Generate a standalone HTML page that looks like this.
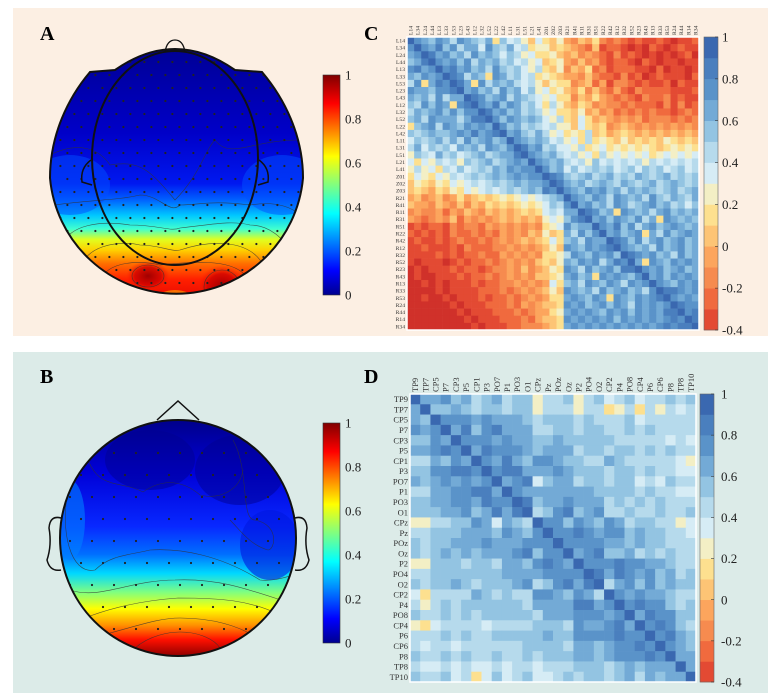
<!DOCTYPE html>
<html><head><meta charset="utf-8"><style>
html,body{margin:0;padding:0;background:#fff;}
svg{display:block;font-family:"Liberation Serif",serif;}
</style></head><body>
<svg id="fig" width="780" height="698" viewBox="0 0 780 698" xmlns="http://www.w3.org/2000/svg">
<defs>
<linearGradient id="jet" x1="0" y1="1" x2="0" y2="0">
<stop offset="0" stop-color="#00008f"/><stop offset="0.11" stop-color="#0000ff"/><stop offset="0.37" stop-color="#00ffff"/><stop offset="0.5" stop-color="#80ff80"/><stop offset="0.63" stop-color="#ffff00"/><stop offset="0.87" stop-color="#ff0000"/><stop offset="1" stop-color="#800000"/>
</linearGradient>
<linearGradient id="gA" gradientUnits="userSpaceOnUse" x1="0" y1="40" x2="0" y2="306">
<stop offset="0" stop-color="#000090"/><stop offset="0.35" stop-color="#0000c8"/><stop offset="0.54" stop-color="#0018f0"/><stop offset="0.6" stop-color="#0060ff"/><stop offset="0.66" stop-color="#00c8ff"/><stop offset="0.71" stop-color="#40ffd0"/><stop offset="0.75" stop-color="#e0ff20"/><stop offset="0.79" stop-color="#ffd000"/><stop offset="0.84" stop-color="#ff7000"/><stop offset="0.9" stop-color="#ff2000"/><stop offset="1" stop-color="#e00000"/>
</linearGradient>
<radialGradient id="hot"><stop offset="0" stop-color="#a00000"/><stop offset="0.6" stop-color="#d00000" stop-opacity="0.8"/><stop offset="1" stop-color="#ff2000" stop-opacity="0"/></radialGradient>
<linearGradient id="gB" gradientUnits="userSpaceOnUse" x1="0" y1="420" x2="0" y2="656">
<stop offset="0" stop-color="#00008a"/><stop offset="0.22" stop-color="#0000d8"/><stop offset="0.45" stop-color="#0828ff"/><stop offset="0.57" stop-color="#0070ff"/><stop offset="0.65" stop-color="#00d8ff"/><stop offset="0.73" stop-color="#80ff80"/><stop offset="0.8" stop-color="#ffff00"/><stop offset="0.87" stop-color="#ff9000"/><stop offset="0.93" stop-color="#ff1000"/><stop offset="1" stop-color="#900000"/>
</linearGradient>
<clipPath id="clipA"><path d="M50,178 C50,135 68,98 90,72 L115,70 Q175,28 235,70 L262,72 C284,98 303,135 303,178 A127,127 0 0 1 50,178 Z"/></clipPath>
<clipPath id="clipB"><circle cx="178" cy="538" r="118"/></clipPath>
</defs>

<rect x="13" y="8" width="755" height="328" fill="#fcefe3"/>
<rect x="13" y="352" width="755" height="341" fill="#dcebe8"/>

<text x="40" y="40" font-size="20" font-weight="bold">A</text>
<text x="364" y="40" font-size="20" font-weight="bold">C</text>
<text x="40" y="383" font-size="20" font-weight="bold">B</text>
<text x="364" y="383" font-size="20" font-weight="bold">D</text>

<g>
<g clip-path="url(#clipA)">
<rect x="40" y="30" width="280" height="290" fill="url(#gA)"/>
<ellipse cx="70" cy="185" rx="40" ry="30" fill="#0050ff" opacity="0.5"/>
<ellipse cx="282" cy="185" rx="40" ry="30" fill="#0050ff" opacity="0.5"/>
<ellipse cx="148" cy="276" rx="22" ry="15" fill="url(#hot)"/>
<ellipse cx="222" cy="287" rx="24" ry="22" fill="url(#hot)"/>
<ellipse cx="175" cy="300" rx="18" ry="10" fill="#ffd000" opacity="0.5"/>
<g fill="none" stroke="#333" stroke-width="0.6" opacity="0.8">
<path d="M50,155 C80,140 100,150 110,165 C140,160 150,170 175,200 C200,175 205,150 215,140 C230,160 250,140 300,140"/>
<path d="M55,205 C90,200 120,200 140,195 C160,195 170,215 180,205 C200,205 210,200 250,205 C280,200 295,210 300,215"/>
<path d="M62,245 C70,225 100,220 130,225 C160,225 170,232 180,228 C210,225 230,220 250,225 C270,225 285,240 288,250"/>
<path d="M80,275 C80,245 120,240 140,245 C160,245 170,252 180,250 C210,240 245,240 260,260 C270,280 262,290 265,295"/>
<path d="M100,292 C95,265 130,258 160,265 C190,262 230,258 245,275 C255,300 240,305 240,305"/>
<ellipse cx="148" cy="276" rx="16" ry="11"/><ellipse cx="222" cy="287" rx="18" ry="17"/>
</g>
<g id="dotsA" fill="#222"></g>
</g>
<path d="M50,178 C50,135 68,98 90,72 L115,70 Q175,28 235,70 L262,72 C284,98 303,135 303,178 A127,127 0 0 1 50,178 Z" fill="none" stroke="#111" stroke-width="2"/>
<ellipse cx="175" cy="158" rx="83" ry="107" fill="none" stroke="#111" stroke-width="2"/>
<path d="M165,52 Q167,40 175,40 Q183,40 185,52" fill="none" stroke="#111" stroke-width="1.3"/>
<path d="M91,160 Q80,168 82,182 L92,185" fill="none" stroke="#111" stroke-width="1.5"/>
<path d="M259,160 Q270,168 268,182 L258,185" fill="none" stroke="#111" stroke-width="1.5"/>
</g>
<g>
<rect x="323" y="75" width="17" height="220" fill="url(#jet)" stroke="#333" stroke-width="0.6"/>
<g id="cbAticks" font-size="13" fill="#222"></g>
</g>

<g>
<g clip-path="url(#clipB)">
<rect x="55" y="415" width="250" height="250" fill="url(#gB)"/>
<ellipse cx="240" cy="470" rx="45" ry="35" fill="#000090" opacity="0.5"/>
<ellipse cx="150" cy="460" rx="45" ry="30" fill="#000090" opacity="0.5"/>
<ellipse cx="270" cy="545" rx="30" ry="35" fill="#0018e0" opacity="0.6"/>
<ellipse cx="70" cy="520" rx="15" ry="40" fill="#0080ff" opacity="0.6"/>
<g fill="none" stroke="#333" stroke-width="0.6" opacity="0.8">
<path d="M88,460 C100,490 120,480 143,492 C160,480 180,478 200,495 C220,500 240,490 243,470"/>
<path d="M233,440 C250,470 240,520 255,520 C280,525 275,550 268,550 C250,545 240,530 230,520"/>
<path d="M68,490 C60,530 70,575 95,570 C110,555 130,555 150,550 C180,548 220,555 260,580 C275,582 290,575 296,575"/>
<path d="M70,590 C100,600 130,580 175,580 C220,578 250,590 296,605"/>
<path d="M90,616 C120,605 150,600 178,598 C220,598 250,600 280,615"/>
<path d="M110,633 C140,625 160,618 180,618 C210,618 240,625 260,640"/>
<path d="M135,648 C150,635 170,632 180,632 C200,632 215,640 220,648"/>
</g>
<g id="dotsB" fill="#222"></g>
</g>
<circle cx="178" cy="538" r="118" fill="none" stroke="#111" stroke-width="2"/>
<path d="M157,420 L178,401 L199,420" fill="none" stroke="#111" stroke-width="1.5"/>
<path d="M61,518 Q50,515 49,528 Q52,545 47,560 Q50,572 61,570" fill="none" stroke="#111" stroke-width="1.5"/>
<path d="M295,518 Q306,515 307,528 Q304,545 309,560 Q306,572 295,570" fill="none" stroke="#111" stroke-width="1.5"/>
</g>
<g>
<rect x="323" y="423" width="17" height="220" fill="url(#jet)" stroke="#333" stroke-width="0.6"/>
<g id="cbBticks" font-size="13" fill="#222"></g>
</g>

<g id="matC"></g>
<g id="matD"></g>
</svg>

<script>
const cLabels = ["L14","L34","L24","L44","L13","L33","L53","L23","L43","L12","L32","L52","L22","L42","L11","L31","L51","L21","L41","Z01","Z02","Z03","R21","R41","R11","R31","R51","R22","R42","R12","R32","R52","R23","R43","R13","R33","R53","R24","R44","R14","R34"];
const cRows = [
"ecbacb9cba9b6a89758"+"657"+"4354632321211210112",
"cecbdac9bb8ca9b8967"+"756"+"5432512210102101211",
"bcedbcab9caba8a9786"+"675"+"4534321312101010120",
"abdecbcac9bab9a8978"+"567"+"4353421221021011011",
"cdbcecdbcab9ca9a879"+"657"+"3546231222110201101",
"bacbcedc9ba6cb9a896"+"765"+"4435322131201211102",
"9c6bdcedb6c9bab9897"+"576"+"6345241332121120211",
"cbbaccdebcab9cab8a7"+"867"+"5463532421322221112",
"bab9c9bbedcabc9ba98"+"786"+"6354643232132231211",
"a9cacb6cdecbdacb9a8"+"697"+"5465343323222131312",
"9babcacaccedbcab9a9"+"786"+"6574534232323221232",
"ab9cbbb9bddecacbaba"+"879"+"6586454343423332323",
"6abc9cbacbcbecab9a9"+"897"+"7586563454343434343",
"a9abaabcbdbcdebca9b"+"978"+"6769564565454545454",
"8a9ab9b9cabcabecbab"+"a89"+"7869676575656576565",
"9b8a9a8bab9cbacedbc"+"9a8"+"8796786767676567676",
"7a98b9a89ab9abbdecb"+"ab9"+"8978697878786787878",
"86879897a9ab9abcbec"+"bab"+"9897a89898979898989",
"7978698a89a9bacbcce"+"cab"+"8a89a9a89a8a9a89a89",
"687687989a9ababcbcc"+"edc"+"a9ab9ab9a9ba9ab9a9a",
"576576878989a9ababb"+"ced"+"bab9aba9ba9ab9aba9a",
"56546576878989a9aba"+"dce"+"cbacbcab9baba9ab9ab",
"4534534645656767878"+"9ab"+"ecbacb9cbab9ca9ba9b",
"5443543535465656767"+"8a9"+"cebcab9cb9abcab9a8a",
"3433424354354545656"+"898"+"bbedcab6cbab9bcabab",
"4323435243434545454"+"787"+"acdebcacbac9b6cbaba",
"1212213233243434343"+"678"+"cabbecbdac9bcabcbab",
"2121213223232434354"+"756"+"b9cacebcabc6b9cabcb",
"1211212322323434545"+"686"+"ab9cbbedcac9bcabcab",
"1121112132223343434"+"575"+"cbacbcdecbab9cabcab",
"1111212122322434343"+"667"+"9cbacbcaedcbcab9cab",
"1011101212232343435"+"657"+"bacbc9bdceb6cbacbcb",
"0101112122123343534"+"576"+"cb9cabcaddecbcabcab",
"0100111212232343435"+"567"+"bcab6cbcbacebcacbcb",
"0010101112122334343"+"486"+"ab9cbacb9cbcecbacbc",
"0000101111222323434"+"575"+"cbab9cabcab9ceddcbc",
"0010010111212232343"+"466"+"bcbacb6cbacbcdecbcb",
"0000001011122232434"+"556"+"cbcabcacb9cbcbcedcc",
"0000000101112223234"+"467"+"bcbcbacbcacbcbddecd",
"0000000010111222324"+"556"+"cbcbcbcacbcbcbcdced",
"0000000001011122333"+"456"+"bcbcbcbcbcbcbcdcdde"
];
const dLabels = ["TP9","TP7","CP5","P7","CP3","P5","CP1","P3","PO7","P1","PO3","O1","CPz","Pz","POz","Oz","P2","PO4","O2","CP2","P4","PO8","CP4","P6","CP6","P8","TP8","TP10"];
const dRows = [
"ebbcab9ab9aa799a79a89a899a9a",
"beaaba9aa9aa7999799679697989",
"baecccbcbbba9aaa9a999a899999",
"cbcebdacdbbb99aa9aa99a9a9999",
"aacbecccbcbbaabaaaaa99999898",
"bbcdcebdcccbabbb9aa9aa9a9a99",
"99bacbecbdbaccbaa99ba9999987",
"aaccddcecddbbbcbaaa9aa9a9988",
"babcbcbcebcd8abb9aa9aa898a99",
"99bbccddbecbbbbbbbaaaa9a9988",
"aabbccbdccedabbcbbb9a9a9a999",
"aaabbcabdbde9acdabc99a99a99a",
"7799aacb8ba9eccacbacb9aa9978",
"99aaabbbacbaceccdcbccabaa998",
"a9aabbbcbbbccceccccbbabaa999",
"a9abababbbcdaccebcdaab9a9a99",
"77aaa9aa9bbacdcbecccdccbba99",
"99aaaaaaabbbbccccedbdcbcab9a",
"a9aaba9aaabc9acdbde9bcacabaa",
"869999ba9a99ccbacb9ecbcbba99",
"979a9aaaaaa9bbbbddbcecdcca9a",
"a99a9a9aaaaa9bbbcccbcebdccaa",
"768999989999aaa9cbbcdbecdca9",
"999a9a99aaaaabaaccccdccecdba",
"98998999999aaaa9bbabccdcecba",
"a99a9a99a99a9aaabbabcccdcebb",
"9889898898998999aaa9ababbbeb",
"a99a8968a89a889a9aa9ab9babbe"
];
const cbTicks = [1,0.8,0.6,0.4,0.2,0,-0.2,-0.4];
const topoTicks = [1,0.8,0.6,0.4,0.2,0];

const NS = "http://www.w3.org/2000/svg";
const palette = ["#d0312a","#e34a33","#f06a3e","#f68b4f","#fca55d","#fdc475","#fde08f","#f3efc5","#d6ecf5","#b6daec","#93c4e2","#73aad6","#5a93c9","#4a7fbe","#3a68b0"];
function parseRows(rows){ return rows.map(r => r.split("").map(ch => -0.4 + parseInt(ch,16)*0.1)); }
const cVals = parseRows(cRows);
const dVals = parseRows(dRows);
function colorOf(v){ let k = Math.round((v+0.4)/0.1); k=Math.max(0,Math.min(14,k)); return palette[k]; }
function mk(tag, attrs, parent){ const e=document.createElementNS(NS,tag); for(const k in attrs) e.setAttribute(k,attrs[k]); parent.appendChild(e); return e; }

function drawMatrix(g, vals, labels, x0, y0, x1, y1, fs, cbX, cbW, tickX, tickFs){
  const n = labels.length;
  const sx = i => x0 + (x1-x0)*i/n;
  const sy = i => y0 + (y1-y0)*i/n;
  for(let r=0;r<n;r++){
    for(let c=0;c<n;c++){
      const v = vals[r][c];
      const rect = mk("rect",{x:sx(c),y:sy(r),width:sx(c+1)-sx(c)+0.3,height:sy(r+1)-sy(r)+0.3,fill:colorOf(v)},g);
      
      
    }
  }
  mk("rect",{x:x0,y:y0,width:x1-x0,height:y1-y0,fill:"none",stroke:"#fff","stroke-width":1.5},g);
  for(let i=0;i<n;i++){
    const t = mk("text",{x:x0-2,y:sy(i+0.5)+fs*0.35,"font-size":fs,"text-anchor":"end",fill:"#333"},g);
    t.textContent = labels[i];
    
    
    const cx = sx(i+0.5)+fs*0.35, cy = y0-2;
    const t2 = mk("text",{x:cx,y:cy,"font-size":fs,fill:"#333",transform:`rotate(-90 ${cx} ${cy})`},g);
    t2.textContent = labels[i];
    
    
  }
  const vmin=-0.4, vmax=1;
  const cy = v => y1 - (v-vmin)/(vmax-vmin)*(y1-y0);
  for(let k=0;k<14;k++){
    const lo = vmin + k*0.1, hi = lo+0.1;
    const b = mk("rect",{x:cbX,y:cy(hi),width:cbW,height:cy(lo)-cy(hi)+0.3,fill:palette[Math.min(14,Math.round(k+0.5))]},g);
    
    
  }
  mk("rect",{x:cbX,y:y0,width:cbW,height:y1-y0,fill:"none",stroke:"#666","stroke-width":0.6},g);
  cbTicks.forEach(v=>{
    mk("line",{x1:cbX+cbW-3,x2:cbX+cbW,y1:cy(v),y2:cy(v),stroke:"#333","stroke-width":0.6},g);
    const t = mk("text",{x:tickX,y:cy(v)+tickFs*0.35,"font-size":tickFs,fill:"#222"},g);
    t.textContent = String(v);
    
    
  });
}
drawMatrix(document.getElementById("matC"), cVals, cLabels, 407, 37, 699, 330, 5.6, 704, 14, 722, 13);
drawMatrix(document.getElementById("matD"), dVals, dLabels, 410, 394, 696, 682, 8.5, 700, 14, 721, 13);

function topoTicksDraw(id, y0, y1){
  const g=document.getElementById(id);
  topoTicks.forEach(v=>{
    const y = y1 - v*(y1-y0);
    const t = mk("text",{x:345,y:y+4.5},g);
    t.textContent = String(v);
    
    
  });
}
topoTicksDraw("cbAticks",75,295);
topoTicksDraw("cbBticks",423,643);

(function(){
  const gA=document.getElementById("dotsA");
  for(let y=62;y<305;y+=13){
    for(let x=55;x<300;x+=14){
      const ox = ((y/13)%2)*7;
      const d=mk("circle",{cx:x+ox,cy:y,r:1.1},gA);
      
      
    }
  }
  const gB=document.getElementById("dotsB");
  for(let y=453;y<650;y+=22){
    for(let x=70;x<290;x+=22){
      const d=mk("circle",{cx:x+((y-453)/22%2)*11,cy:y,r:1.1},gB);
      
      
    }
  }
})();
</script>
</body></html>
